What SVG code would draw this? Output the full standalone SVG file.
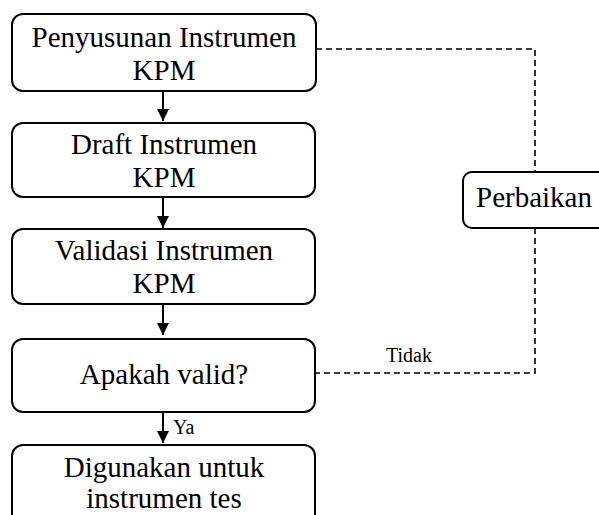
<svg xmlns="http://www.w3.org/2000/svg" width="599" height="515" viewBox="0 0 599 515">
<style>
.box{fill:#fff;stroke:#000;stroke-width:2}
.t{font-family:"Liberation Serif","Times New Roman",serif;font-size:29px;fill:#000;text-anchor:middle}
.s{font-family:"Liberation Serif","Times New Roman",serif;font-size:20px;fill:#000}
.arr{stroke:#000;stroke-width:2;fill:none;marker-end:url(#ah)}
.dash{stroke:#000;stroke-width:1.6;fill:none;stroke-dasharray:6 4}
</style>
<defs>
<marker id="ah" markerWidth="12" markerHeight="12" viewBox="0 0 12 12" refX="12" refY="6" orient="auto" markerUnits="userSpaceOnUse">
<path d="M0,0 L12,6 L0,12 Z" fill="#000"/>
</marker>
</defs>
<g id="connectors">
<line class="arr" x1="163" y1="91" x2="163" y2="121"/>
<line class="arr" x1="163" y1="197" x2="163" y2="228"/>
<line class="arr" x1="163" y1="304" x2="163" y2="335"/>
<line class="arr" x1="163" y1="412" x2="163" y2="443"/>
<path class="dash" d="M316,49 H535 V172"/>
<path class="dash" d="M535,228 V373 H316"/>
<text class="s" x="173" y="434">Ya</text>
<text class="s" x="409" y="362" text-anchor="middle">Tidak</text>
</g>
<g id="n1">
<rect class="box" x="12" y="14" width="304" height="77" rx="11"/>
<text class="t" x="164" y="47">Penyusunan Instrumen</text>
<text class="t" x="164" y="80">KPM</text>
</g>
<g id="n2">
<rect class="box" x="12" y="123" width="303" height="74" rx="11"/>
<text class="t" x="164" y="154">Draft Instrumen</text>
<text class="t" x="164" y="187">KPM</text>
</g>
<g id="n3">
<rect class="box" x="12" y="229" width="303" height="75" rx="11"/>
<text class="t" x="164" y="260">Validasi Instrumen</text>
<text class="t" x="164" y="293">KPM</text>
</g>
<g id="n4">
<rect class="box" x="12" y="339" width="303" height="73" rx="11"/>
<text class="t" x="164" y="384">Apakah valid?</text>
</g>
<g id="n5">
<rect class="box" x="12" y="445" width="303" height="90" rx="11"/>
<text class="t" x="164" y="477">Digunakan untuk</text>
<text class="t" x="164" y="508">instrumen tes</text>
</g>
<g id="n6">
<rect class="box" x="463" y="172" width="160" height="56" rx="9"/>
<text class="t" x="534" y="207">Perbaikan</text>
</g>
</svg>
